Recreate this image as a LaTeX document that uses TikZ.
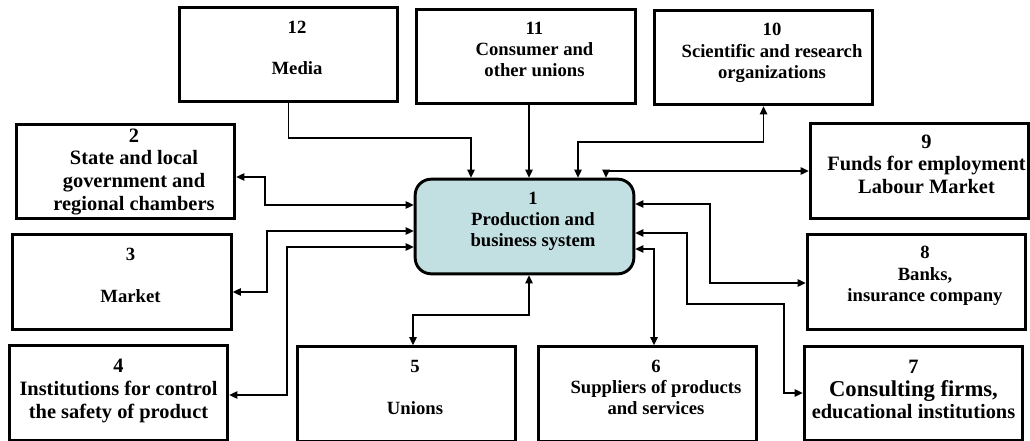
\documentclass[tikz,border=0pt]{standalone}
\usepackage{fontspec}
\setmainfont{Liberation Serif}
\usepackage{tikz}
\usetikzlibrary{arrows.meta}
\definecolor{sysblue}{RGB}{194,223,226}
\tikzset{>={Triangle[length=6pt,width=5.5pt]}}
\tikzset{blok/.style={draw,line width=2.2pt,minimum width=164pt,minimum height=71pt,
    inner sep=1pt,font=\fontsize{14pt}{16pt}\selectfont\bfseries},
  blokbig/.style={blok,font=\fontsize{15.3pt}{17pt}\selectfont\bfseries}}
\newcommand{\lbl}[2][12.75pt]{\begin{tabular}{@{\hspace{#1}}c@{}}#2\end{tabular}}

\begin{document}
\begin{tikzpicture}[x=0.75pt,y=-0.75pt]
          \useasboundingbox (0,0) rectangle (1030,441);
          \node[blok,fill=sysblue,rounded corners=12pt] (n1) at (524.5,226.5) {\lbl{1\\Production and\\business system\\[8pt]}};
          \node[blokbig] (n2) at (125.5,171.5) {\lbl{2\\State and local\\government and\\regional chambers}};
          \node[blok] (n3) at (122,282) {\lbl{3\\[15pt]Market\\[7pt]}};
          \node[blokbig] (n4) at (118.5,393) {\lbl[0pt]{4\\Institutions for control\\the safety of product\\[3pt]}};
          \node[blok] (n5) at (406.5,394) {\lbl{5\\[15pt]Unions\\[7pt]}};
          \node[blok] (n6) at (647.5,394) {\lbl{6\\Suppliers of products\\and services\\[7pt]}};
          \node[blokbig] (n7) at (913.5,393.5) {\lbl[0pt]{7\\{\fontsize{17pt}{17pt}\selectfont Consulting firms,}\\educational institutions\\[3pt]}};
          \node[blok] (n8) at (916.5,282) {\lbl{8\\Banks,\\insurance company\\[9pt]}};
          \node[blokbig] (n9) at (919.5,171) {\lbl[10.5pt]{9\\Funds for employment\\Labour Market\\[7pt]}};
          \node[blok] (n10) at (763.5,57.5) {\lbl{10\\Scientific and research\\organizations\\[7pt]}};
          \node[blok] (n11) at (526,56.5) {\lbl{11\\Consumer and\\other unions\\[8pt]}};
          \node[blok] (n12) at (288.5,54.5) {\lbl{12\\[15pt]Media\\[7pt]}};
          % bends
          \coordinate (b12) at (471,138);
          \coordinate (b11) at (529,0);
          \coordinate (b10) at (578,142);
          \coordinate (b9) at (606,171);
          \coordinate (b2a) at (265,177);
          \coordinate (b2b) at (265,205);
          \coordinate (b3a) at (267,231);
          \coordinate (b3b) at (267,292);
          \coordinate (b4a) at (287,247);
          \coordinate (b4b) at (287,395);
          \coordinate (b5a) at (529,315);
          \coordinate (b5b) at (413,315);
          \coordinate (b6) at (654,249);
          \coordinate (b8a) at (710,204);
          \coordinate (b8b) at (710,283);
          \coordinate (b7a) at (687,233);
          \coordinate (b7b) at (687,304);
          \coordinate (b7c) at (784,304);
          \coordinate (b7d) at (784,393);
          \begin{scope}[line width=1.1pt]
            \draw[->] (n12.south) |- (b12) -- (b12 |- n1.north);
            \draw[->] (b11 |- n11.south) -- (b11 |- n1.north);
            \draw[<->] (n10.south) |- (b10) -- (b10 |- n1.north);
            \draw[<->] (n9.west) -- (b9) -- (b9 |- n1.north);
            \draw[<->] (n2.east |- b2a) -- (b2a) -- (b2b) -- (b2b -| n1.west);
            \draw[<->] (b3a -| n1.west) -- (b3a) -- (b3b) -- (b3b -| n3.east);
            \draw[<->] (b4a -| n1.west) -- (b4a) -- (b4b) -- (b4b -| n4.east);
            \draw[<->] (b5a |- n1.south) -- (b5a) -- (b5b) -- (b5b |- n5.north);
            \draw[<->] (b6 -| n1.east) -- (b6) -- (b6 |- n6.north);
            \draw[<->] (b8a -| n1.east) -- (b8a) -- (b8b) -- (b8b -| n8.west);
            \draw[<->] (b7a -| n1.east) -- (b7a) -- (b7b) -- (b7c) -- (b7d) -- (b7d -| n7.west);
          \end{scope}
        \end{tikzpicture}
\end{document}
